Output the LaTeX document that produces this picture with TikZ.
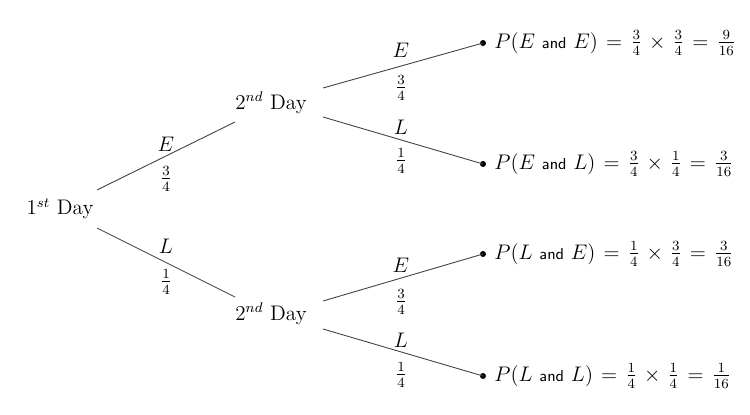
\documentclass[tikz,border=0pt]{standalone}
\usepackage{amsmath}
\begin{document}
\begin{tikzpicture}[x=0.02cm,y=-0.02cm,
  every node/.style={font=\large},
  lvl/.style={inner sep=0pt},
  lab/.style={inner sep=0pt},
  branch/.style={draw=black!75, line width=0.5pt},
  leafdot/.style={circle, fill=black, inner sep=0pt, minimum size=3.4pt},
  res/.style={anchor=west, inner sep=0pt}]
\useasboundingbox (0,0) rectangle (750,415);
\newcommand{\andtxt}{\ \text{\sffamily\small and}\ }
\thickmuskip=7mu plus 5mu
\medmuskip=6mu plus 2mu minus 4mu
% level nodes
\node[lvl] (d1) at (60,209) {$1^{st}$ Day};
\node[lvl] (d2a) at (271,103) {$2^{nd}$ Day};
\node[lvl] (d2b) at (271,314) {$2^{nd}$ Day};
% leaf dots
\node[leafdot] (ee) at (483,43) {};
\node[leafdot] (el) at (483,164) {};
\node[leafdot] (le) at (483,254) {};
\node[leafdot] (ll) at (483,376) {};
% results
\node[res] (tee) at (494,43) {$P(E\andtxt E)=\frac{3}{4}\times\frac{3}{4}=\frac{9}{16}$};
\node[res] (tel) at (494,164) {$P(E\andtxt L)=\frac{3}{4}\times\frac{1}{4}=\frac{3}{16}$};
\node[res] (tle) at (494,254) {$P(L\andtxt E)=\frac{1}{4}\times\frac{3}{4}=\frac{3}{16}$};
\node[res] (tll) at (494,376) {$P(L\andtxt L)=\frac{1}{4}\times\frac{1}{4}=\frac{1}{16}$};
% branches
\draw[branch] ([shift={(37,-19)}]d1.center) -- ([shift={(-36,19)}]d2a.center);
\draw[branch] ([shift={(37,19)}]d1.center) -- ([shift={(-36,-17)}]d2b.center);
\draw[branch] ([shift={(52,-15)}]d2a.center) -- (ee.center);
\draw[branch] ([shift={(52,14)}]d2a.center) -- (el.center);
\draw[branch] ([shift={(52,-13)}]d2b.center) -- (le.center);
\draw[branch] ([shift={(52,15)}]d2b.center) -- (ll.center);
% branch labels
\node[lab] (e1) at (166,144) {$E$};
\node[lab] (p1) at (166,179) {$\frac{3}{4}$};
\node[lab] (l1) at (166,246) {$L$};
\node[lab] (q1) at (166,282) {$\frac{1}{4}$};
\node[lab] (e2) at (401,50) {$E$};
\node[lab] (p2) at (401,88) {$\frac{3}{4}$};
\node[lab] (l2) at (401,127) {$L$};
\node[lab] (q2) at (401,161) {$\frac{1}{4}$};
\node[lab] (e3) at (401,265) {$E$};
\node[lab] (p3) at (401,302) {$\frac{3}{4}$};
\node[lab] (l3) at (401,340) {$L$};
\node[lab] (q3) at (401,375) {$\frac{1}{4}$};
\end{tikzpicture}
\end{document}
